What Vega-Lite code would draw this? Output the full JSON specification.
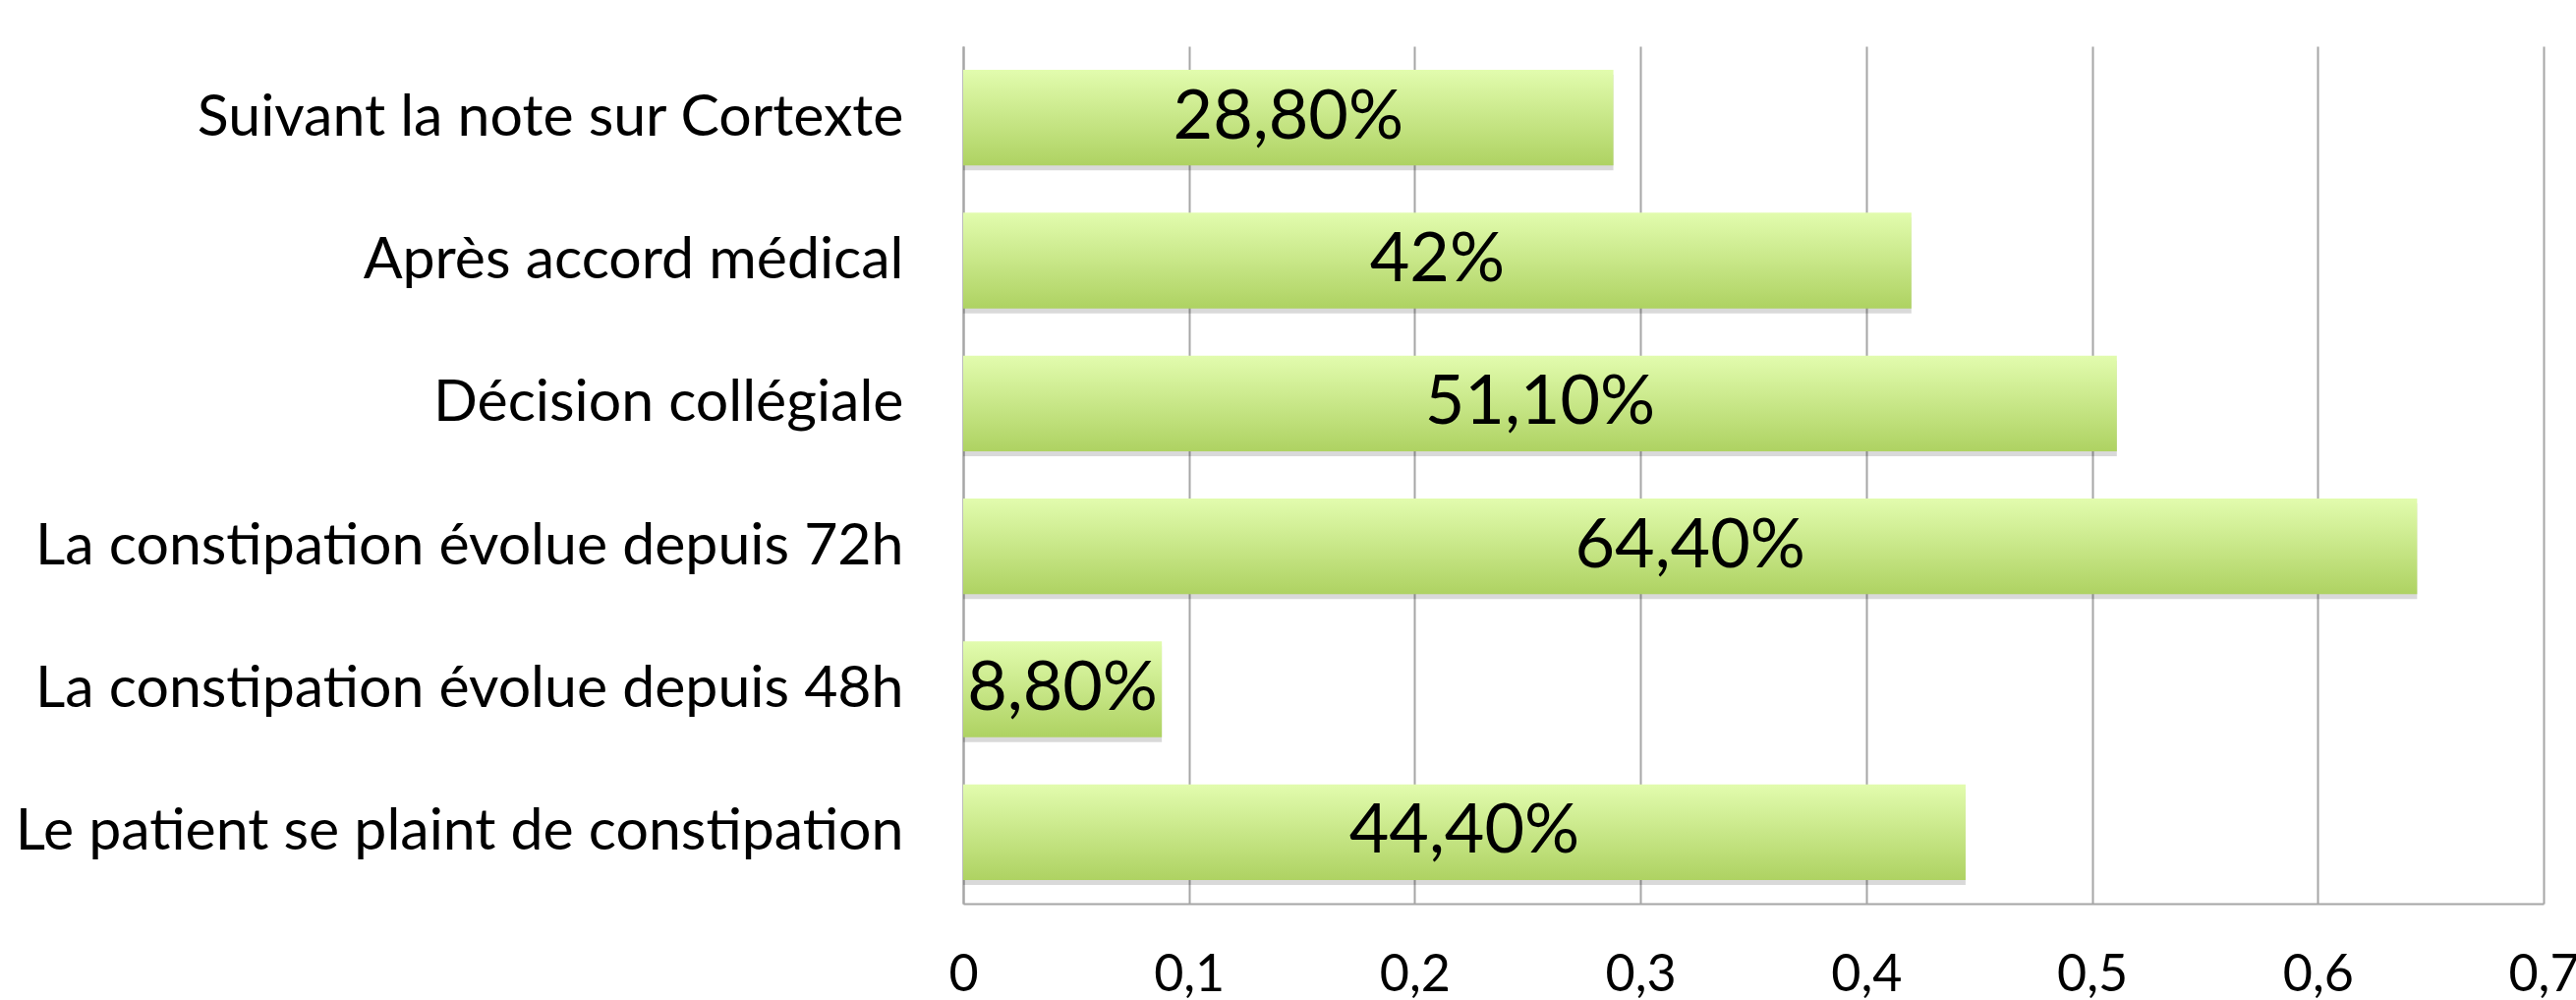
{
  "$schema": "https://vega.github.io/schema/vega-lite/v6.json",
  "width": 1608,
  "height": 872,
  "autosize": {"type": "none"},
  "padding": {"left": 980, "top": 47, "right": 33, "bottom": 98},
  "background": "white",
  "config": {"view": {"stroke": null}, "font": "Lato"},
  "data": {
    "values": [
      {"item": "Suivant la note sur Cortexte", "value": 0.288, "label": "28,80%"},
      {"item": "Après accord médical", "value": 0.42, "label": "42%"},
      {"item": "Décision collégiale", "value": 0.511, "label": "51,10%"},
      {"item": "La constipation évolue depuis 72h", "value": 0.644, "label": "64,40%"},
      {"item": "La constipation évolue depuis 48h", "value": 0.088, "label": "8,80%"},
      {"item": "Le patient se plaint de constipation", "value": 0.444, "label": "44,40%"}
    ]
  },
  "transform": [{"calculate": "datum.value / 2", "as": "mid"}],
  "encoding": {
    "y": {
      "field": "item",
      "type": "nominal",
      "sort": null,
      "scale": {"paddingInner": 0.33, "paddingOuter": 0.165},
      "axis": {
        "title": null,
        "ticks": false,
        "domainColor": "#a6a6a6",
        "domainWidth": 2,
        "labelFontSize": 59,
        "labelColor": "#000000",
        "labelPadding": 61,
        "labelLimit": 3000,
        "grid": false
      }
    }
  },
  "layer": [
    {
      "mark": {"type": "bar", "color": "#000000", "opacity": 0.15, "x2Offset": 5, "yOffset": 5, "y2Offset": 5},
      "encoding": {
        "x": {
          "field": "value",
          "type": "quantitative",
          "scale": {"domain": [0, 0.7], "nice": false},
          "axis": {
            "values": [0, 0.1, 0.2, 0.3, 0.4, 0.5, 0.6, 0.7],
            "labelExpr": "replace(format(datum.value, '.1~f'), '.', ',')",
            "title": null,
            "grid": true,
            "gridColor": "#a6a6a6",
            "gridWidth": 2,
            "domainColor": "#a6a6a6",
            "domainWidth": 2,
            "ticks": false,
            "labelFontSize": 52,
            "labelColor": "#000000",
            "labelPadding": 47,
            "labelOverlap": false,
            "labelBound": false,
            "labelFlush": false
          }
        }
      }
    },
    {
      "mark": {
        "type": "bar",
        "color": {
          "gradient": "linear",
          "x1": 0, "y1": 0, "x2": 0, "y2": 1,
          "stops": [
            {"offset": 0, "color": "#e2fcae"},
            {"offset": 1, "color": "#aed262"}
          ]
        }
      },
      "encoding": {
        "x": {"field": "value", "type": "quantitative"}
      }
    },
    {
      "mark": {"type": "text", "fontSize": 70, "align": "center", "baseline": "middle", "color": "#000000"},
      "encoding": {
        "x": {"field": "mid", "type": "quantitative"},
        "text": {"field": "label"}
      }
    }
  ]
}
